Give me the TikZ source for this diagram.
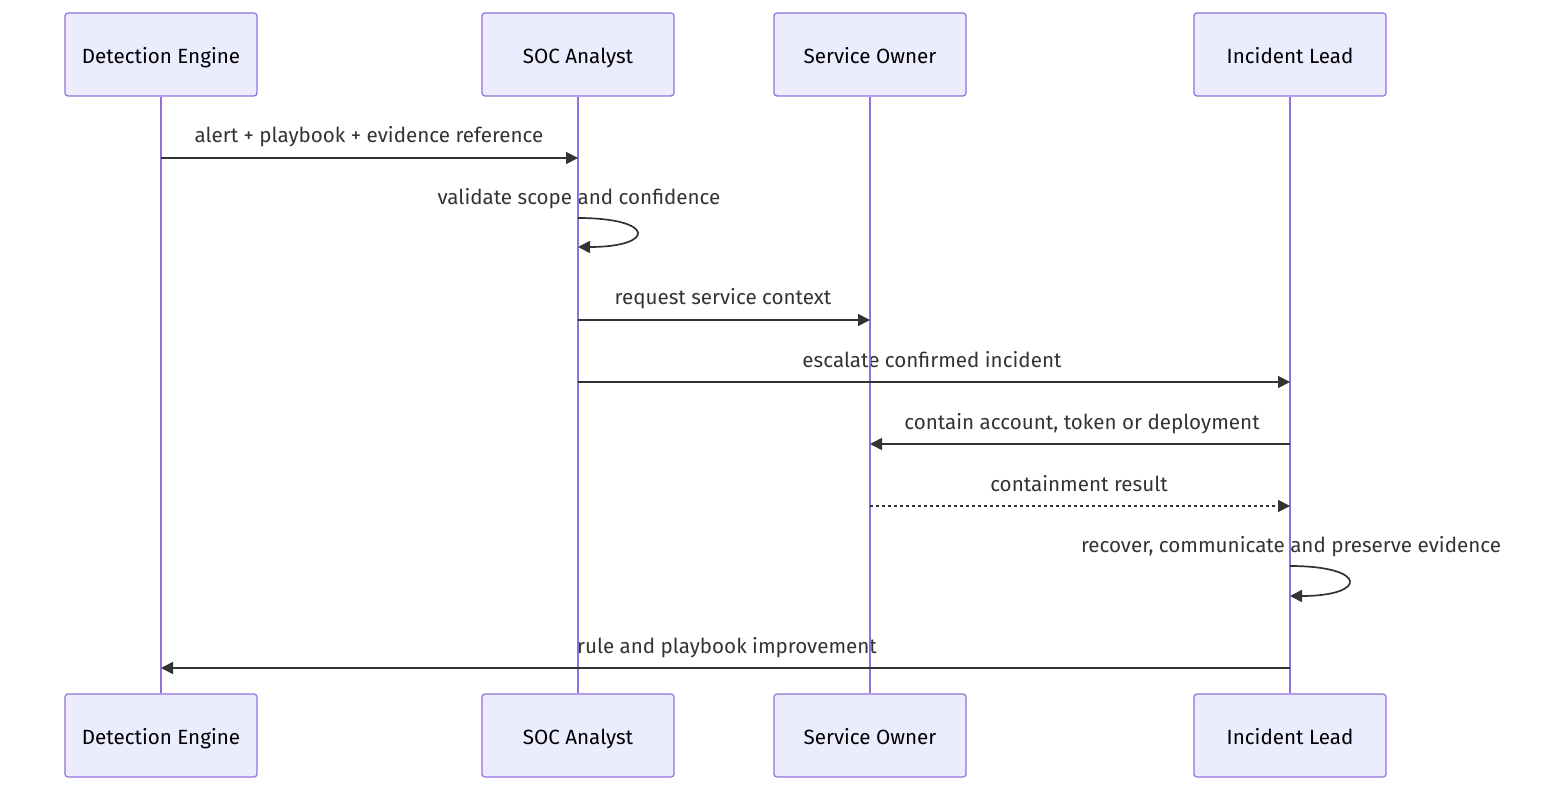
\documentclass[tikz,border=0pt]{standalone}
\usepackage{fontspec}
\setmainfont{Fira Sans}
\usetikzlibrary{arrows.meta}
\definecolor{actfill}{HTML}{ECECFF}
\definecolor{actline}{HTML}{9370DB}
\definecolor{msgcol}{HTML}{333333}
\tikzset{
  actor/.style={draw=actline, fill=actfill, line width=1.2pt, rounded corners=3pt,
    minimum width=192pt, minimum height=83pt, inner sep=0pt, font=\fontsize{20.6}{24}\selectfont,
    text=black, text height=18.5pt, text depth=0.5pt},
  life/.style={draw=actline, line width=2pt},
  msg/.style={draw=msgcol, line width=1.7pt, -{Triangle[length=12pt,width=12pt]}},
  dmsg/.style={msg, dash pattern=on 3pt off 3pt},
  lbl/.style={font=\fontsize{20.6}{24}\selectfont, text=msgcol, inner sep=0pt, text height=17.5pt, text depth=1.5pt}
}
\begin{document}
\begin{tikzpicture}[x=1pt,y=-1pt]
\useasboundingbox (0,0) rectangle (1568,802);
% message y coordinates
\coordinate (m1) at (0,158);
\coordinate (m2a) at (0,218);
\coordinate (m2b) at (0,247);
\coordinate (m3) at (0,320);
\coordinate (m4) at (0,382);
\coordinate (m5) at (0,444);
\coordinate (m6) at (0,506);
\coordinate (m7a) at (0,566);
\coordinate (m7b) at (0,596);
\coordinate (m8) at (0,668);
% labels (drawn first, lifelines drawn over them)
\node[lbl] (l1) at (369,135) {alert + playbook + evidence reference};
\node[lbl] (l2) at (579,197) {validate scope and confidence};
\node[lbl] (l3) at (723,297) {request service context};
\node[lbl] (l4) at (932,359) {escalate confirmed incident};
\node[lbl] (l5) at (1082,421) {contain account, token or deployment};
\node[lbl] (l6) at (1079,483) {containment result};
\node[lbl] (l7) at (1291,544) {recover, communicate and preserve evidence};
\node[lbl] (l8) at (727,645) {rule and playbook improvement};
% actors
\node[actor] (deT) at (161,54.5) {Detection Engine};
\node[actor] (scT) at (578,54.5) {SOC Analyst};
\node[actor] (soT) at (870,54.5) {Service Owner};
\node[actor] (ilT) at (1290,54.5) {Incident Lead};
\node[actor] (deB) at (161,735.5) {Detection Engine};
\node[actor] (scB) at (578,735.5) {SOC Analyst};
\node[actor] (soB) at (870,735.5) {Service Owner};
\node[actor] (ilB) at (1290,735.5) {Incident Lead};
% lifelines
\draw[life] (deT.south) -- (deB.north);
\draw[life] (scT.south) -- (scB.north);
\draw[life] (soT.south) -- (soB.north);
\draw[life] (ilT.south) -- (ilB.north);
% messages
\draw[msg] (deT |- m1) -- (scT |- m1);
\draw[msg] (scT |- m2a) .. controls ([xshift=78pt]scT |- m2a) and ([xshift=78pt]scT |- m2b) .. (scT |- m2b);
\draw[msg] (scT |- m3) -- (soT |- m3);
\draw[msg] (scT |- m4) -- (ilT |- m4);
\draw[msg] (ilT |- m5) -- (soT |- m5);
\draw[dmsg] (soT |- m6) -- (ilT |- m6);
\draw[msg] (ilT |- m7a) .. controls ([xshift=78pt]ilT |- m7a) and ([xshift=78pt]ilT |- m7b) .. (ilT |- m7b);
\draw[msg] (ilT |- m8) -- (deT |- m8);
\end{tikzpicture}
\end{document}
